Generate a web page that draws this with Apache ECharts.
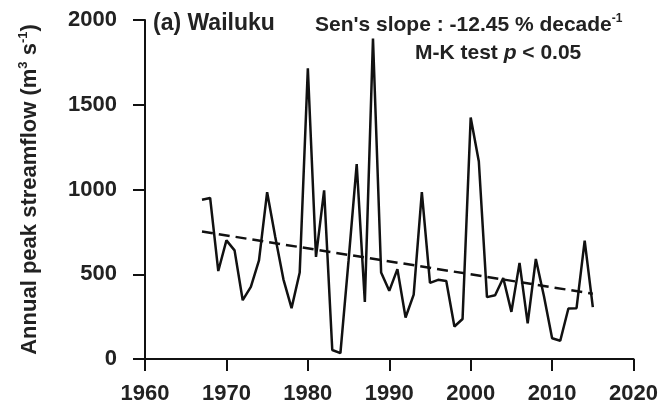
<!DOCTYPE html>
<html>
<head>
<meta charset="utf-8">
<script src="https://cdn.jsdelivr.net/npm/echarts@6/dist/echarts.min.js"></script>
<style>
  html, body { margin: 0; padding: 0; background: #fff; }
  #chart { width: 661px; height: 414px; }
</style>
</head>
<body>
<div id="chart"></div>
<script>
// annual peak streamflow, Wailuku
var years = [1967, 1968, 1969, 1970, 1971, 1972, 1973, 1974, 1975, 1976,
  1977, 1978, 1979, 1980, 1981, 1982, 1983, 1984, 1985, 1986,
  1987, 1988, 1989, 1990, 1991, 1992, 1993, 1994, 1995, 1996,
  1997, 1998, 1999, 2000, 2001, 2002, 2003, 2004, 2005, 2006,
  2007, 2008, 2009, 2010, 2011, 2012, 2013, 2014, 2015];
var peakFlow = [940, 950, 519, 700, 641, 347, 425, 582, 984, 720,
  470, 300, 510, 1715, 602, 995, 53, 35, 580, 1150,
  337, 1890, 510, 402, 530, 245, 380, 984, 449, 467,
  460, 192, 236, 1425, 1165, 365, 376, 478, 278, 567,
  210, 590, 370, 122, 108, 298, 300, 698, 306];
// Sen's slope trend line, ends
var trendYears = [1967, 2015];
var trendFlow = [752, 385];

var xTicks = [1960, 2020, 10];
var yTicks = [0, 2000, 500];

var myChart = echarts.init(document.getElementById('chart'));

var font = 'Liberation Sans, Arial, sans-serif';
var plain = function (v) { return String(v); };

var option = {
    animation: false,
    backgroundColor: '#fff',
    title: [
        {
            text: '(a) Wailuku',
            left: 153, top: 12, padding: 0,
            textStyle: { fontFamily: font, fontSize: 23, fontWeight: 'bold', color: '#222' }
        },
        {
            text: "Sen's slope : -12.45 % decade{sup|-1}",
            left: 315, top: 13, padding: 0,
            textStyle: {
                fontFamily: font, fontSize: 21, fontWeight: 'bold', color: '#222', lineHeight: 24,
                rich: { sup: { fontFamily: font, fontSize: 12, fontWeight: 'bold', color: '#222', verticalAlign: 'top', lineHeight: 24 } }
            }
        },
        {
            text: 'M-K test {it|p} < 0.05',
            left: 415, top: 43, padding: 0,
            textStyle: {
                fontFamily: font, fontSize: 21, fontWeight: 'bold', color: '#222',
                rich: { it: { fontFamily: font, fontSize: 21, fontWeight: 'bold', fontStyle: 'italic', color: '#222' } }
            }
        }
    ],
    grid: {
        left: 145,
        right: 27,
        top: 20,
        bottom: 55
    },
    xAxis: {
        type: 'value',
        min: xTicks[0],
        max: xTicks[1],
        interval: xTicks[2],
        axisLine: { lineStyle: { color: '#111', width: 2 } },
        axisTick: { show: true, inside: false, length: 12, lineStyle: { color: '#111', width: 2 } },
        axisLabel: { margin: 24, fontFamily: font, fontSize: 22, fontWeight: 'bold', color: '#222', formatter: plain },
        splitLine: { show: false }
    },
    yAxis: {
        type: 'value',
        min: yTicks[0],
        max: yTicks[1],
        interval: yTicks[2],
        name: 'Annual peak streamflow (m{sup|3} s{sup|-1})',
        nameLocation: 'middle',
        nameGap: 102,
        nameTextStyle: {
            fontFamily: font, fontSize: 22, fontWeight: 'bold', color: '#222', lineHeight: 26,
            rich: { sup: { fontFamily: font, fontSize: 13, fontWeight: 'bold', color: '#222', verticalAlign: 'top', lineHeight: 26 } }
        },
        axisLine: { show: true, lineStyle: { color: '#111', width: 2 } },
        axisTick: { show: true, inside: false, length: 12, lineStyle: { color: '#111', width: 2 } },
        axisLabel: { margin: 28, fontFamily: font, fontSize: 22, fontWeight: 'bold', color: '#222', formatter: plain },
        splitLine: { show: false }
    },
    series: [
        {
            name: 'peak',
            type: 'line',
            data: years.map(function (y, i) { return [y, peakFlow[i]]; }),
            symbol: 'none',
            lineStyle: { color: '#111', width: 2.5 }
        },
        {
            name: 'trend',
            type: 'line',
            data: trendYears.map(function (y, i) { return [y, trendFlow[i]]; }),
            symbol: 'none',
            lineStyle: { color: '#111', width: 2.5, type: [11, 6] }
        }
    ]
};

option && myChart.setOption(option);
</script>
</body>
</html>
